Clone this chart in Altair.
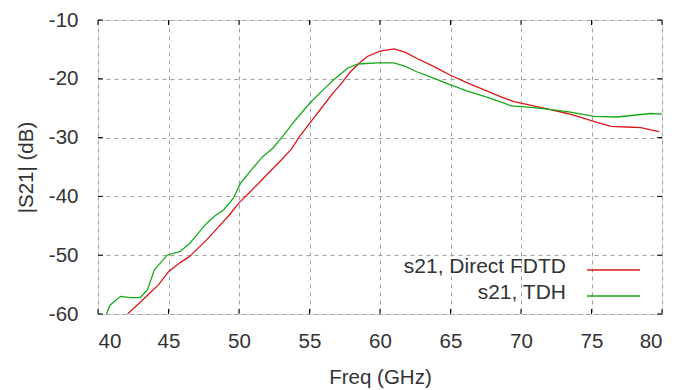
import altair as alt
import pandas as pd

# Direct FDTD series
red_f = [42.1, 43.0, 43.7, 44.3, 45.0, 45.8, 46.5, 47.1, 47.7, 48.5, 49.3, 50.0, 50.8, 51.5,
         52.3, 53.0, 53.7, 54.3, 55.2, 56.0, 56.7, 57.2, 57.9, 58.5, 59.1, 60.0, 61.0, 61.8,
         62.6, 63.8, 65.0, 66.2, 67.4, 68.5, 69.5, 70.9, 72.0, 73.3, 74.3, 75.2, 76.4, 77.5,
         78.5, 79.2, 79.8]
red_v = [-60.0, -58.0, -56.4, -55.0, -52.8, -51.3, -50.2, -48.8, -47.4, -45.3, -43.2, -41.1,
         -39.2, -37.5, -35.5, -33.8, -32.0, -29.8, -27.0, -24.5, -22.3, -21.0, -18.8, -17.4,
         -16.2, -15.3, -14.9, -15.5, -16.5, -17.9, -19.4, -20.7, -21.9, -23.0, -23.9, -24.6,
         -25.2, -25.9, -26.6, -27.3, -28.1, -28.2, -28.3, -28.7, -29.0]

# TDH series
grn_f = [40.6, 40.85, 41.6, 42.3, 43.0, 43.5, 44.0, 44.9, 45.8, 46.5, 47.1, 47.7, 48.3, 48.9,
         49.6, 50.1, 50.9, 51.7, 52.4, 53.1, 54.0, 55.0, 56.0, 56.7, 57.7, 58.4, 59.0, 59.8,
         61.0, 61.8, 62.6, 63.8, 65.0, 66.2, 67.4, 68.4, 69.3, 70.9, 72.0, 73.3, 74.3, 75.2,
         76.8, 78.0, 79.2, 80.0]
grn_v = [-60.0, -58.5, -57.0, -57.2, -57.2, -55.9, -52.5, -50.0, -49.4, -48.0, -46.3, -44.6,
         -43.3, -42.3, -40.3, -37.8, -35.4, -33.2, -31.8, -29.8, -27.0, -24.2, -21.8, -20.2,
         -18.2, -17.5, -17.4, -17.3, -17.3, -17.9, -18.8, -19.9, -21.05, -22.1, -23.0, -23.8,
         -24.6, -24.9, -25.2, -25.6, -26.0, -26.4, -26.5, -26.2, -25.9, -26.0]

series_names = ["s21, Direct FDTD", "s21, TDH"]
series_colors = ["#d81818", "#18a818"]
x_ticks = [40, 45, 50, 55, 60, 65, 70, 75, 80]
y_ticks = [-60, -50, -40, -30, -20, -10]

W, H = 564, 294
FONT = "Liberation Sans"
FS = 20.5

df = pd.concat([
    pd.DataFrame({"f": red_f, "v": red_v, "s": series_names[0], "o": range(len(red_f))}),
    pd.DataFrame({"f": grn_f, "v": grn_v, "s": series_names[1], "o": range(len(grn_f))}),
])

xs = alt.Scale(domain=[40, 80], nice=False, zero=False)
ys = alt.Scale(domain=[-60, -10], nice=False, zero=False)

lines = alt.Chart(df).mark_line(strokeWidth=1.3, clip=True).encode(
    x=alt.X("f:Q", scale=xs, title="Freq (GHz)",
            axis=alt.Axis(values=x_ticks, grid=True, gridDash=[4, 4], gridColor="#a0a0a0",
                          tickSize=0, labelPadding=17, domain=False, titlePadding=16,
                          labelExpr="toString(datum.value)",
                          labelFontSize=FS, titleFontSize=FS, labelFont=FONT, titleFont=FONT,
                          titleFontWeight="normal", labelColor="#333", titleColor="#333")),
    y=alt.Y("v:Q", scale=ys, title="|S21| (dB)",
            axis=alt.Axis(values=y_ticks, grid=True, gridDash=[4, 4], gridColor="#a0a0a0",
                          tickSize=0, labelPadding=20, domain=False, titlePadding=12,
                          labelExpr="toString(datum.value)",
                          labelFontSize=FS, titleFontSize=FS, labelFont=FONT, titleFont=FONT,
                          titleFontWeight="normal", labelColor="#333", titleColor="#333")),
    color=alt.Color("s:N", scale=alt.Scale(domain=series_names, range=series_colors), legend=None),
    order="o:Q",
)

xt = pd.DataFrame({"t": x_ticks})
yt = pd.DataFrame({"t": y_ticks})
tick_bottom = alt.Chart(xt).mark_rule(color="black").encode(
    x=alt.X("t:Q", scale=xs), y=alt.value(H), y2=alt.value(H - 5))
tick_top = alt.Chart(xt).mark_rule(color="black").encode(
    x=alt.X("t:Q", scale=xs), y=alt.value(0), y2=alt.value(5))
tick_left = alt.Chart(yt).mark_rule(color="black").encode(
    y=alt.Y("t:Q", scale=ys), x=alt.value(0), x2=alt.value(5))
tick_right = alt.Chart(yt).mark_rule(color="black").encode(
    y=alt.Y("t:Q", scale=ys), x=alt.value(W), x2=alt.value(W - 5))

leg_layers = []
for i, (name, col) in enumerate(zip(series_names, series_colors)):
    ld = pd.DataFrame({"label": [name]})
    yy = 247 + i * 26
    leg_layers.append(alt.Chart(ld).mark_text(align="right", baseline="middle", fontSize=21,
                                              font=FONT, color="#333").encode(
        text="label:N", x=alt.value(468), y=alt.value(yy)))
    leg_layers.append(alt.Chart(ld).mark_rule(color=col, strokeWidth=1.5).encode(
        x=alt.value(489), x2=alt.value(542), y=alt.value(yy + 3)))

chart = alt.layer(lines, tick_bottom, tick_top, tick_left, tick_right, *leg_layers).properties(
    width=W, height=H,
    autosize=alt.AutoSizeParams(type="none"),
    padding={"left": 98, "top": 20, "right": 12, "bottom": 76},
).configure_view(stroke="black", strokeWidth=1.5).configure(background="white")

chart.save("out.html", embed_options={"renderer": "svg", "actions": False})
